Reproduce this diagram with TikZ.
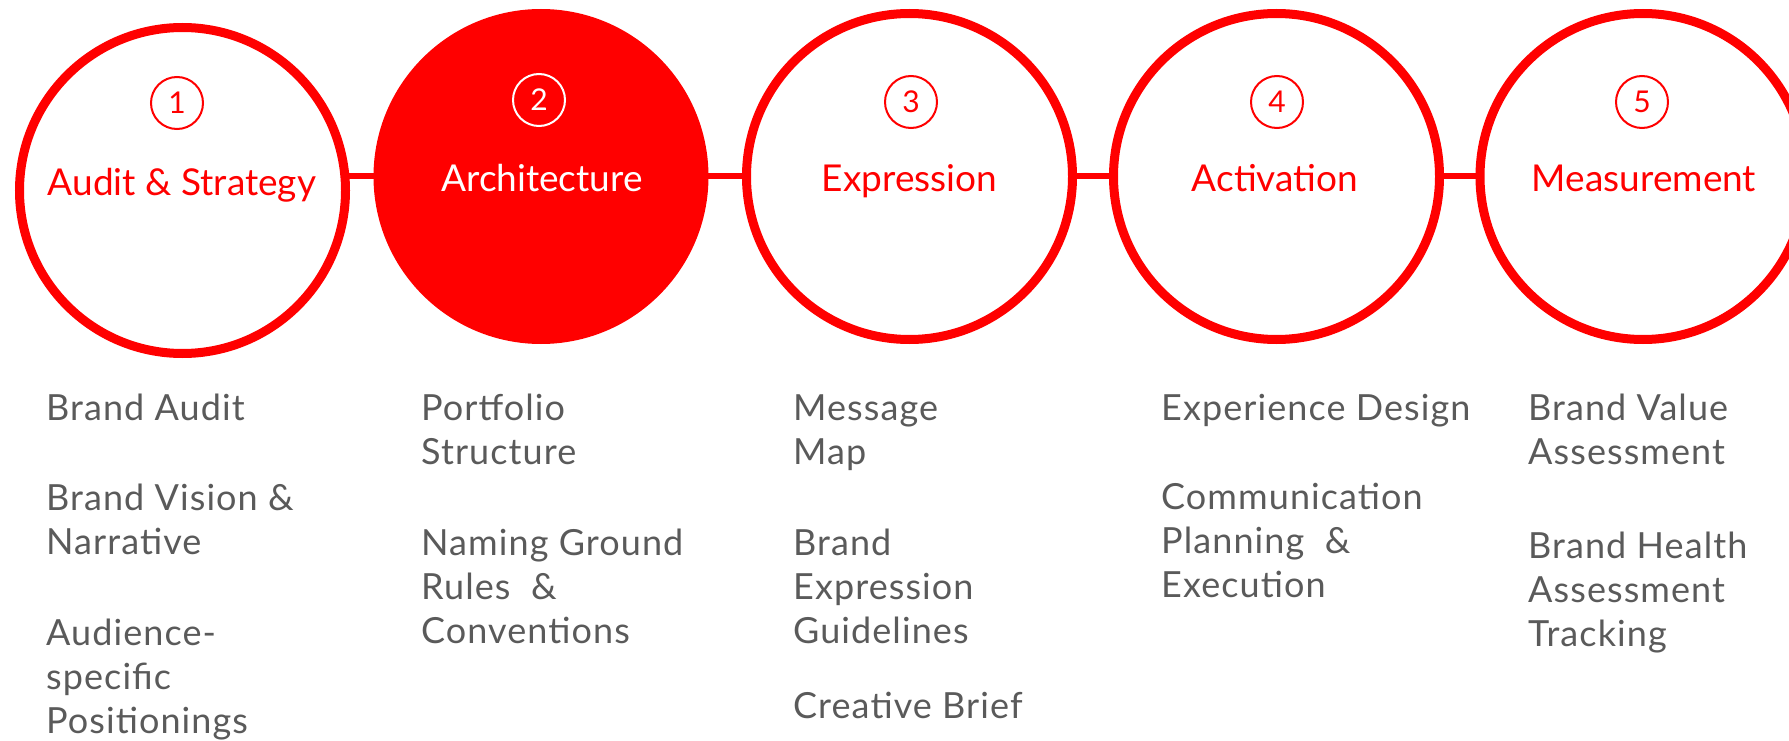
\documentclass[tikz,border=0pt]{standalone}
\usepackage{fontspec}
\setmainfont{Lato}
\newfontfamily\itemfont[LetterSpace=3]{Lato}
\definecolor{brandred}{RGB}{255,0,0}
\definecolor{txtgray}{RGB}{90,90,90}
\pgfdeclarelayer{background}
\pgfsetlayers{background,main}
\newcommand{\itemlines}[1]{\begin{tabular}[t]{@{}l@{}}#1\end{tabular}}
\begin{document}
\begin{tikzpicture}[x=1pt,y=-1pt,
  stage/.style={circle, draw=brandred, line width=9pt, minimum size=326pt, inner sep=0pt, fill=white},
  stagefilled/.style={stage, fill=brandred},
  numring/.style={circle, draw=brandred, line width=2pt, minimum size=52pt, inner sep=0pt, text=brandred, font=\fontsize{30}{30}\selectfont},
  numringw/.style={numring, draw=white, text=white},
  title/.style={anchor=base, inner sep=0pt, text=brandred, font=\fontsize{37}{40}\selectfont},
  titlew/.style={title, text=white},
  link/.style={draw=brandred, line width=6pt},
  item/.style={anchor=base west, inner sep=0pt, text=txtgray, font=\itemfont\fontsize{36}{44}\selectfont}]
\useasboundingbox (0,0) rectangle (1789,741);
\clip (0,0) rectangle (1789,741);

\node[stage] (c1) at (182.5,190.5) {};
\node[stagefilled] (c2) at (541,176.5) {};
\node[stage] (c3) at (909.5,176.5) {};
\node[stage] (c4) at (1276.5,176.5) {};
\node[stage] (c5) at (1643,176.5) {};

\begin{pgfonlayer}{background}
\draw[link] (c1.center |- c2.center) -- (c2.center);
\draw[link] (c2.center) -- (c3.center);
\draw[link] (c3.center) -- (c4.center);
\draw[link] (c4.center) -- (c5.center);
\end{pgfonlayer}

\node[numring] (n1) at (177,103) {1};
\node[numringw] (n2) at (539,100) {2};
\node[numring] (n3) at (911,102) {3};
\node[numring] (n4) at (1277,102) {4};
\node[numring] (n5) at (1642,102) {5};

\node[title] (t1) at (182,195) {Audit \& Strategy};
\node[titlew] (t2) at (542,191) {Architecture};
\node[title] (t3) at (909.5,191) {Expression};
\node[title] (t4) at (1275,191) {Activation};
\node[title] (t5) at (1644,191) {Measurement};

\node[item] (a1) at (46,420) {\itemlines{Brand Audit}};
\node[item] (a2) at (46,510) {\itemlines{Brand Vision \&\\Narrative}};
\node[item] (a3) at (46,645) {\itemlines{Audience-\\specific\\Positionings}};

\node[item] (b1) at (421,420) {\itemlines{Portfolio\\Structure}};
\node[item] (b2) at (421,555) {\itemlines{Naming Ground\\Rules~~\&\\Conventions}};

\node[item] (d1) at (793,420) {\itemlines{Message\\Map}};
\node[item] (d2) at (793,555) {\itemlines{Brand\\Expression\\Guidelines}};
\node[item] (d3) at (793,718) {\itemlines{Creative Brief}};

\node[item] (e1) at (1161,420) {\itemlines{Experience Design}};
\node[item] (e2) at (1161,509) {\itemlines{Communication\\Planning~~\&\\Execution}};

\node[item] (f1) at (1528,420) {\itemlines{Brand Value\\Assessment}};
\node[item] (f2) at (1528,558) {\itemlines{Brand Health\\Assessment\\Tracking}};
\end{tikzpicture}
\end{document}
